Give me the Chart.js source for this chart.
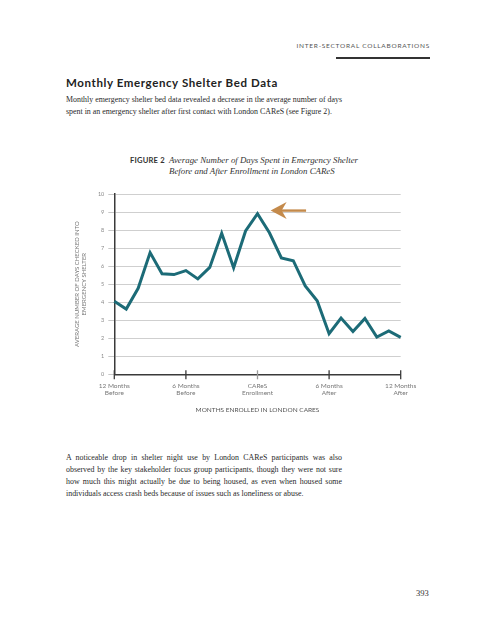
<!DOCTYPE html>
<html>
<head>
<meta charset="utf-8">
<script src="https://cdn.jsdelivr.net/npm/chart.js@4/dist/chart.umd.min.js"></script>
<style>
  html, body { margin: 0; padding: 0; background: #fff; }
  #page { position: relative; width: 495px; height: 640px; overflow: hidden; background: #fff; }
  .t { position: absolute; white-space: nowrap; }
  .hdr { font-family: Lato, "Noto Sans", sans-serif; font-size: 6.5px; line-height: 8px; letter-spacing: 0.75px; color: #555; right: 65px; top: 42px; }
  .rule { position: absolute; left: 336px; top: 57.3px; width: 94px; height: 1.5px; background: #333; }
  .h2 { font-family: Lato, "Noto Sans", sans-serif; font-weight: 700; font-size: 11.5px; line-height: 14px; letter-spacing: 0.6px; color: #222; left: 66px; top: 76px; }
  .body { font-family: "Liberation Serif", serif; font-size: 7.9px; line-height: 10px; color: #2a2a2a; left: 66px; }
  .just { width: 276px; text-align: justify; text-align-last: justify; white-space: nowrap; }
  .fig { font-family: Lato, "Noto Sans", sans-serif; font-weight: 700; font-size: 7.6px; line-height: 10px; color: #333; left: 130px; top: 155px; letter-spacing: 0.2px; }
  .figt { font-family: "Liberation Serif", serif; font-style: italic; font-size: 8.85px; line-height: 10px; color: #333; left: 169px; }
  .pg { font-family: "Liberation Serif", serif; font-size: 8.5px; line-height: 10px; color: #333; left: 416px; top: 588px; }
  #wrap { position: absolute; left: 50px; top: 184px; width: 400px; height: 240px; }
</style>
</head>
<body>
<div id="page">
  <div class="t hdr">INTER-SECTORAL COLLABORATIONS</div>
  <div class="rule"></div>
  <div class="t h2">Monthly Emergency Shelter Bed Data</div>
  <div class="t body just" style="top:95px;">Monthly emergency shelter bed data revealed a decrease in the average number of days</div>
  <div class="t body" style="top:106.5px;">spent in an emergency shelter after first contact with London CAReS (see Figure 2).</div>

  <div class="t fig">FIGURE 2</div>
  <div class="t figt" style="top:155px;">Average Number of Days Spent in Emergency Shelter</div>
  <div class="t figt" style="top:165.7px;">Before and After Enrollment in London CAReS</div>

  <div id="wrap"><canvas id="c" width="400" height="240"></canvas></div>

  <div class="t body just" style="top:453.3px;">A noticeable drop in shelter night use by London CAReS participants was also</div>
  <div class="t body just" style="top:465.1px;">observed by the key stakeholder focus group participants, though they were not sure</div>
  <div class="t body just" style="top:476.9px;">how much this might actually be due to being housed, as even when housed some</div>
  <div class="t body" style="top:488.7px;">individuals access crash beds because of issues such as loneliness or abuse.</div>

  <div class="t pg">393</div>
</div>
<script>
// ---- data ----
const months = [-12,-11,-10,-9,-8,-7,-6,-5,-4,-3,-2,-1,0,1,2,3,4,5,6,7,8,9,10,11,12];
const avgDays = [4.05,3.62,4.77,6.75,5.58,5.53,5.75,5.29,5.93,7.82,5.91,7.95,8.91,7.85,6.45,6.30,4.90,4.08,2.25,3.12,2.37,3.10,2.07,2.40,2.05];
const xTickMonths = [-12,-6,0,6,12];
const xTickLabels = [["12 Months","Before"],["6 Months","Before"],["CAReS","Enrollment"],["6 Months","After"],["12 Months","After"]];
const yTicks = [0,1,2,3,4,5,6,7,8,9,10];
const yTitle = ["AVERAGE NUMBER OF DAYS CHECKED INTO","EMERGENCY SHELTER"];
const xTitle = "MONTHS ENROLLED IN LONDON CARES";
// arrow annotation (data space): tip month, tail month, value level
const arrowTipMonth = [1.1];
const arrowTailMonth = [4.07];
const arrowLevel = [9.08];

const SANS = "Lato, 'Noto Sans', sans-serif";

const extras = {
  id: 'extras',
  afterDatasetsDraw(chart) {
    const ctx = chart.ctx;
    const xs = chart.scales.x, ys = chart.scales.y;
    const yAxis = chart.chartArea.bottom;
    ctx.save();
    // tick marks crossing the x axis
    xTickMonths.forEach((m) => {
      const px = xs.getPixelForValue(months.indexOf(m));
      ctx.beginPath();
      ctx.strokeStyle = m === 0 ? '#9a9a9a' : '#3a3a3a';
      ctx.lineWidth = 1.3;
      ctx.moveTo(px, yAxis - 4);
      ctx.lineTo(px, yAxis + 5);
      ctx.stroke();
    });
    // arrow
    const idx = (m) => {
      const f = Math.floor(m);
      const p0 = xs.getPixelForValue(months.indexOf(f));
      const p1 = xs.getPixelForValue(months.indexOf(f + 1));
      return p0 + (p1 - p0) * (m - f);
    };
    const tipX = idx(arrowTipMonth[0]);
    const tailX = idx(arrowTailMonth[0]);
    const ay = ys.getPixelForValue(arrowLevel[0]);
    ctx.fillStyle = '#c48a4b';
    ctx.strokeStyle = '#c48a4b';
    ctx.lineWidth = 2.4;
    ctx.beginPath();
    ctx.moveTo(tipX + 10, ay);
    ctx.lineTo(tailX, ay);
    ctx.stroke();
    ctx.beginPath();
    ctx.moveTo(tipX, ay);
    ctx.lineTo(tipX + 16, ay - 8.5);
    ctx.lineTo(tipX + 11, ay);
    ctx.lineTo(tipX + 16, ay + 8.5);
    ctx.closePath();
    ctx.fill();
    ctx.restore();
  }
};

new Chart(document.getElementById('c'), {
  type: 'line',
  data: {
    labels: months,
    datasets: [{
      data: avgDays,
      borderColor: '#1c6b77',
      borderWidth: 3,
      pointRadius: 0,
      tension: 0,
      borderJoinStyle: 'miter',
      fill: false,
      clip: false
    }]
  },
  options: {
    responsive: false,
    animation: false,
    devicePixelRatio: 1,
    layout: { padding: { top: 10, right: 49.3, left: 0, bottom: 0 } },
    plugins: { legend: { display: false }, tooltip: { enabled: false } },
    scales: {
      x: {
        type: 'category',
        offset: false,
        afterFit: (s) => { s.height = 49.7; },
        grid: { display: true, drawOnChartArea: false, drawTicks: false },
        border: { display: true, color: '#3a3a3a', width: 1.5 },
        ticks: {
          autoSkip: false, maxRotation: 0, minRotation: 0, padding: 8.2,
          color: '#777', font: { family: SANS, size: 6.5, lineHeight: 1.08 },
          callback: function(v, i) {
            const k = xTickMonths.indexOf(months[i]);
            return k >= 0 ? xTickLabels[k] : null;
          }
        },
        title: { display: true, text: xTitle, color: '#555', font: { family: SANS, size: 6.5, lineHeight: 1.2 }, padding: { top: 0, bottom: 10.1 } }
      },
      y: {
        min: 0, max: 10,
        afterFit: (s) => { s.width = 64.3; },
        afterBuildTicks: (s) => { s.ticks = yTicks.map(v => ({ value: v })); },
        grid: { color: '#cfcfcf', lineWidth: 1, drawTicks: true, tickLength: 6, tickColor: '#c8c8c8' },
        border: { display: true, color: '#3a3a3a', width: 1.5 },
        ticks: { color: '#8a8a8a', padding: 4, font: { family: SANS, size: 5.5 } },
        title: { display: true, text: yTitle, color: '#777', font: { family: SANS, size: 6, lineHeight: 1.1 }, padding: { top: 23.7, bottom: 0 } }
      }
    }
  },
  plugins: [extras]
});
</script>
</body>
</html>
